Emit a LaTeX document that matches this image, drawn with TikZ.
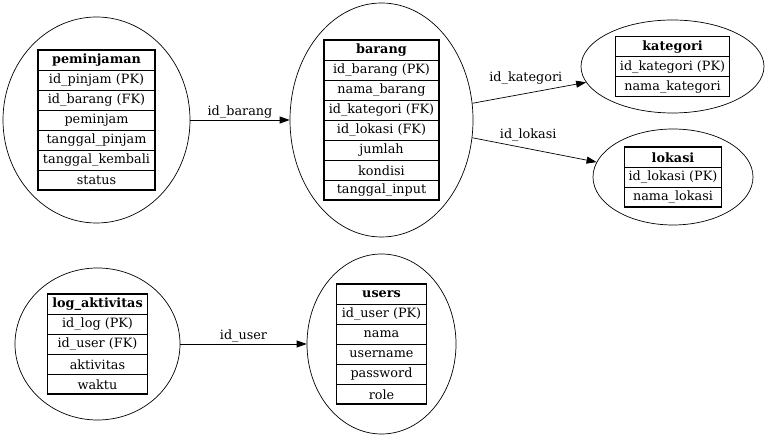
\documentclass[tikz,border=0pt]{standalone}
\usepackage{fontspec}
\setmainfont{DejaVu Serif}
\usetikzlibrary{shapes.geometric,arrows.meta}

\tikzset{
  entity/.style={ellipse, draw, line width=0.7pt, inner sep=0pt},
  cell/.style={draw, line width=0.8pt, minimum height=20pt, inner sep=0pt,
    font=\fontsize{12.8}{14}\selectfont},
  frame/.style={draw, line width=1.6pt},
  rel/.style={-{Triangle[length=10pt,width=7pt]}, line width=0.7pt},
  rlabel/.style={font=\fontsize{12.8}{14}\selectfont, inner sep=0pt}
}

% #1 name, #2 x, #3 y, #4 ellipse width, #5 ellipse height,
% #6 table width, #7 title, #8 number of rows (title included), #9 attributes
\newcommand\erentity[9]{%
  \node[entity, minimum width=#4pt, minimum height=#5pt] (#1) at (#2,#3) {};
  \pgfmathsetmacro\tabletop{#3+#8*10}
  \node[cell, minimum width=#6pt, anchor=north] (#1-0) at (#2,\tabletop) {\textbf{#7}};
  \foreach \attr [count=\i] in {#9}{
    \node[cell, minimum width=#6pt, anchor=north] (#1-\i) at (#2,\tabletop-\i*20) {\attr};
  }
  \draw[frame] ({#2-#6/2},\tabletop) rectangle ({#2+#6/2},{\tabletop-#8*20});
}

\begin{document}
\begin{tikzpicture}[x=1pt,y=1pt]
  \useasboundingbox (0,0) rectangle (768,438);

  \erentity{peminjaman}{96.5}{318}{187}{206}{117}{peminjaman}{7}%
    {id\_pinjam (PK),id\_barang (FK),peminjam,tanggal\_pinjam,tanggal\_kembali,status}
  \erentity{barang}{381.5}{318}{183}{234}{115}{barang}{8}%
    {id\_barang (PK),nama\_barang,id\_kategori (FK),id\_lokasi (FK),jumlah,kondisi,tanggal\_input}
  \erentity{kategori}{672.5}{371.5}{183}{93}{114}{kategori}{3}%
    {id\_kategori (PK),nama\_kategori}
  \erentity{lokasi}{673}{261}{160}{96}{97}{lokasi}{3}%
    {id\_lokasi (PK),nama\_lokasi}
  \erentity{logaktivitas}{97.5}{94}{165}{152}{100}{log\_aktivitas}{5}%
    {id\_log (PK),id\_user (FK),aktivitas,waktu}
  \erentity{users}{381.5}{94}{149}{180}{90}{users}{6}%
    {id\_user (PK),nama,username,password,role}

  \draw[rel] (peminjaman) -- node[rlabel, above=1pt] (l-barang) {id\_barang} (barang);
  \draw[rel] (barang) -- node[rlabel, above=9pt, pos=0.47] (l-kategori) {id\_kategori} (kategori);
  \draw[rel] (barang) -- node[rlabel, above=7pt, pos=0.45] (l-lokasi) {id\_lokasi} (lokasi);
  \draw[rel] (logaktivitas) -- node[rlabel, above=1pt] (l-user) {id\_user} (users);
\end{tikzpicture}
\end{document}
